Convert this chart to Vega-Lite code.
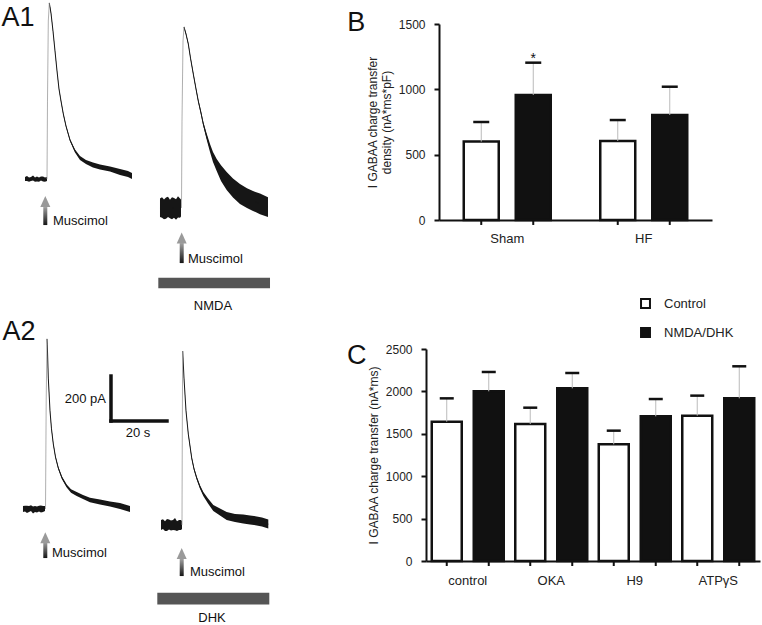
{
  "$schema": "https://vega.github.io/schema/vega-lite/v6.json",
  "padding": 0,
  "background": "white",
  "spacing": 46,
  "config": {
    "view": {"stroke": null},
    "font": "Liberation Sans",
    "axis": {"grid": false, "labelFont": "Liberation Sans", "titleFont": "Liberation Sans", "domainColor": "#111111", "domainWidth": 2, "tickColor": "#111111", "tickWidth": 2, "labelColor": "#222222", "titleColor": "#222222", "titleFontWeight": "normal"},
    "axisY": {"tickSize": 5, "labelPadding": 9, "labelFontSize": 12, "titleFontSize": 12, "titlePadding": 5, "format": "d"},
    "axisX": {"ticks": false, "tickSize": 0, "labelFontSize": 13, "labelAngle": 0},
    "legend": {"labelFont": "Liberation Sans"}
  },
  "datasets": {
    "traces": [
      {"seg": "a1c_base", "t": 8.93, "i": 1987, "lo": 1978, "hi": 1996},
      {"seg": "a1c_base", "t": 9.64, "i": 1989, "lo": 1978, "hi": 2000},
      {"seg": "a1c_base", "t": 10.36, "i": 1984, "lo": 1975, "hi": 1993},
      {"seg": "a1c_base", "t": 11.07, "i": 1987, "lo": 1978, "hi": 1996},
      {"seg": "a1c_base", "t": 11.79, "i": 1991, "lo": 1980, "hi": 2002},
      {"seg": "a1c_base", "t": 12.5, "i": 1984, "lo": 1975, "hi": 1993},
      {"seg": "a1c_base", "t": 13.21, "i": 1987, "lo": 1976, "hi": 1998},
      {"seg": "a1c_base", "t": 13.93, "i": 1984, "lo": 1975, "hi": 1993},
      {"seg": "a1c_base", "t": 14.64, "i": 1989, "lo": 1980, "hi": 1998},
      {"seg": "a1c_base", "t": 15.36, "i": 1987, "lo": 1976, "hi": 1998},
      {"seg": "a1c_base", "t": 16.07, "i": 1984, "lo": 1975, "hi": 1993},
      {"seg": "a1c_base", "t": 16.79, "i": 1987, "lo": 1978, "hi": 1996},
      {"seg": "a1c_decay", "t": 17.61, "i": 2769, "lo": 2765, "hi": 2773},
      {"seg": "a1c_decay", "t": 18.21, "i": 2724, "lo": 2721, "hi": 2728},
      {"seg": "a1c_decay", "t": 18.93, "i": 2644, "lo": 2641, "hi": 2648},
      {"seg": "a1c_decay", "t": 19.64, "i": 2556, "lo": 2552, "hi": 2559},
      {"seg": "a1c_decay", "t": 20.36, "i": 2467, "lo": 2463, "hi": 2470},
      {"seg": "a1c_decay", "t": 21.07, "i": 2387, "lo": 2383, "hi": 2390},
      {"seg": "a1c_decay", "t": 21.79, "i": 2333, "lo": 2329, "hi": 2337},
      {"seg": "a1c_decay", "t": 22.61, "i": 2276, "lo": 2271, "hi": 2280},
      {"seg": "a1c_decay", "t": 23.57, "i": 2222, "lo": 2218, "hi": 2227},
      {"seg": "a1c_decay", "t": 25.0, "i": 2160, "lo": 2155, "hi": 2165},
      {"seg": "a1c_decay", "t": 26.79, "i": 2111, "lo": 2104, "hi": 2118},
      {"seg": "a1c_decay", "t": 28.57, "i": 2080, "lo": 2071, "hi": 2089},
      {"seg": "a1c_decay", "t": 30.71, "i": 2062, "lo": 2053, "hi": 2071},
      {"seg": "a1c_decay", "t": 33.21, "i": 2049, "lo": 2038, "hi": 2060},
      {"seg": "a1c_decay", "t": 35.71, "i": 2040, "lo": 2029, "hi": 2051},
      {"seg": "a1c_decay", "t": 39.29, "i": 2031, "lo": 2020, "hi": 2042},
      {"seg": "a1c_decay", "t": 42.86, "i": 2018, "lo": 2004, "hi": 2031},
      {"seg": "a1c_decay", "t": 45.71, "i": 2009, "lo": 1996, "hi": 2022},
      {"seg": "a1c_decay", "t": 47.14, "i": 2000, "lo": 1987, "hi": 2013},
      {"seg": "a1n_base", "t": 57.14, "i": 1858, "lo": 1818, "hi": 1900},
      {"seg": "a1n_base", "t": 57.86, "i": 1862, "lo": 1814, "hi": 1906},
      {"seg": "a1n_base", "t": 58.57, "i": 1853, "lo": 1808, "hi": 1896},
      {"seg": "a1n_base", "t": 59.29, "i": 1858, "lo": 1810, "hi": 1904},
      {"seg": "a1n_base", "t": 60.0, "i": 1862, "lo": 1818, "hi": 1908},
      {"seg": "a1n_base", "t": 60.71, "i": 1853, "lo": 1812, "hi": 1894},
      {"seg": "a1n_base", "t": 61.43, "i": 1858, "lo": 1808, "hi": 1906},
      {"seg": "a1n_base", "t": 62.14, "i": 1858, "lo": 1815, "hi": 1902},
      {"seg": "a1n_base", "t": 62.86, "i": 1853, "lo": 1806, "hi": 1897},
      {"seg": "a1n_base", "t": 63.57, "i": 1862, "lo": 1816, "hi": 1910},
      {"seg": "a1n_base", "t": 64.29, "i": 1858, "lo": 1814, "hi": 1900},
      {"seg": "a1n_base", "t": 64.64, "i": 1858, "lo": 1820, "hi": 1896},
      {"seg": "a1n_decay", "t": 65.71, "i": 2662, "lo": 2658, "hi": 2667},
      {"seg": "a1n_decay", "t": 66.43, "i": 2631, "lo": 2627, "hi": 2636},
      {"seg": "a1n_decay", "t": 67.25, "i": 2587, "lo": 2582, "hi": 2591},
      {"seg": "a1n_decay", "t": 68.04, "i": 2524, "lo": 2520, "hi": 2529},
      {"seg": "a1n_decay", "t": 69.04, "i": 2453, "lo": 2448, "hi": 2459},
      {"seg": "a1n_decay", "t": 70.0, "i": 2387, "lo": 2381, "hi": 2392},
      {"seg": "a1n_decay", "t": 70.82, "i": 2333, "lo": 2327, "hi": 2340},
      {"seg": "a1n_decay", "t": 71.79, "i": 2280, "lo": 2272, "hi": 2288},
      {"seg": "a1n_decay", "t": 72.61, "i": 2231, "lo": 2222, "hi": 2240},
      {"seg": "a1n_decay", "t": 73.75, "i": 2178, "lo": 2164, "hi": 2191},
      {"seg": "a1n_decay", "t": 75.0, "i": 2124, "lo": 2107, "hi": 2142},
      {"seg": "a1n_decay", "t": 76.07, "i": 2084, "lo": 2062, "hi": 2107},
      {"seg": "a1n_decay", "t": 77.39, "i": 2049, "lo": 2022, "hi": 2076},
      {"seg": "a1n_decay", "t": 78.93, "i": 2013, "lo": 1978, "hi": 2048},
      {"seg": "a1n_decay", "t": 80.96, "i": 1978, "lo": 1938, "hi": 2018},
      {"seg": "a1n_decay", "t": 83.21, "i": 1947, "lo": 1905, "hi": 1989},
      {"seg": "a1n_decay", "t": 85.71, "i": 1920, "lo": 1876, "hi": 1964},
      {"seg": "a1n_decay", "t": 88.21, "i": 1902, "lo": 1858, "hi": 1946},
      {"seg": "a1n_decay", "t": 90.36, "i": 1889, "lo": 1845, "hi": 1933},
      {"seg": "a1n_decay", "t": 92.86, "i": 1876, "lo": 1830, "hi": 1922},
      {"seg": "a1n_decay", "t": 95.71, "i": 1862, "lo": 1818, "hi": 1906},
      {"seg": "a2c_base", "t": 8.21, "i": 520, "lo": 507, "hi": 533},
      {"seg": "a2c_base", "t": 8.93, "i": 522, "lo": 509, "hi": 535},
      {"seg": "a2c_base", "t": 9.64, "i": 518, "lo": 502, "hi": 534},
      {"seg": "a2c_base", "t": 10.36, "i": 520, "lo": 507, "hi": 533},
      {"seg": "a2c_base", "t": 11.07, "i": 524, "lo": 511, "hi": 537},
      {"seg": "a2c_base", "t": 11.79, "i": 516, "lo": 500, "hi": 531},
      {"seg": "a2c_base", "t": 12.5, "i": 520, "lo": 507, "hi": 533},
      {"seg": "a2c_base", "t": 13.21, "i": 518, "lo": 505, "hi": 531},
      {"seg": "a2c_base", "t": 13.93, "i": 522, "lo": 509, "hi": 535},
      {"seg": "a2c_base", "t": 14.64, "i": 520, "lo": 504, "hi": 536},
      {"seg": "a2c_base", "t": 15.36, "i": 520, "lo": 507, "hi": 533},
      {"seg": "a2c_base", "t": 16.07, "i": 522, "lo": 511, "hi": 533},
      {"seg": "a2c_decay", "t": 16.79, "i": 1276, "lo": 1273, "hi": 1279},
      {"seg": "a2c_decay", "t": 16.89, "i": 1253, "lo": 1251, "hi": 1256},
      {"seg": "a2c_decay", "t": 17.25, "i": 1102, "lo": 1099, "hi": 1105},
      {"seg": "a2c_decay", "t": 17.86, "i": 956, "lo": 952, "hi": 959},
      {"seg": "a2c_decay", "t": 18.39, "i": 876, "lo": 872, "hi": 880},
      {"seg": "a2c_decay", "t": 19.04, "i": 809, "lo": 804, "hi": 813},
      {"seg": "a2c_decay", "t": 19.82, "i": 751, "lo": 747, "hi": 756},
      {"seg": "a2c_decay", "t": 20.82, "i": 702, "lo": 697, "hi": 708},
      {"seg": "a2c_decay", "t": 22.14, "i": 658, "lo": 652, "hi": 664},
      {"seg": "a2c_decay", "t": 23.82, "i": 622, "lo": 616, "hi": 629},
      {"seg": "a2c_decay", "t": 25.36, "i": 600, "lo": 592, "hi": 608},
      {"seg": "a2c_decay", "t": 27.39, "i": 587, "lo": 578, "hi": 596},
      {"seg": "a2c_decay", "t": 29.64, "i": 573, "lo": 564, "hi": 582},
      {"seg": "a2c_decay", "t": 32.14, "i": 560, "lo": 550, "hi": 570},
      {"seg": "a2c_decay", "t": 35.71, "i": 551, "lo": 540, "hi": 562},
      {"seg": "a2c_decay", "t": 39.29, "i": 542, "lo": 531, "hi": 553},
      {"seg": "a2c_decay", "t": 42.86, "i": 533, "lo": 520, "hi": 547},
      {"seg": "a2c_decay", "t": 46.43, "i": 520, "lo": 507, "hi": 533},
      {"seg": "a2d_base", "t": 57.5, "i": 449, "lo": 427, "hi": 471},
      {"seg": "a2d_base", "t": 58.21, "i": 453, "lo": 431, "hi": 475},
      {"seg": "a2d_base", "t": 58.93, "i": 444, "lo": 422, "hi": 466},
      {"seg": "a2d_base", "t": 59.64, "i": 449, "lo": 422, "hi": 476},
      {"seg": "a2d_base", "t": 60.36, "i": 451, "lo": 429, "hi": 473},
      {"seg": "a2d_base", "t": 61.07, "i": 447, "lo": 425, "hi": 469},
      {"seg": "a2d_base", "t": 61.79, "i": 449, "lo": 427, "hi": 471},
      {"seg": "a2d_base", "t": 62.5, "i": 453, "lo": 426, "hi": 480},
      {"seg": "a2d_base", "t": 63.21, "i": 444, "lo": 422, "hi": 466},
      {"seg": "a2d_base", "t": 63.93, "i": 449, "lo": 427, "hi": 471},
      {"seg": "a2d_base", "t": 64.64, "i": 449, "lo": 427, "hi": 471},
      {"seg": "a2d_base", "t": 65.0, "i": 449, "lo": 431, "hi": 467},
      {"seg": "a2d_decay", "t": 65.25, "i": 1222, "lo": 1219, "hi": 1225},
      {"seg": "a2d_decay", "t": 65.71, "i": 1102, "lo": 1099, "hi": 1105},
      {"seg": "a2d_decay", "t": 66.43, "i": 956, "lo": 952, "hi": 959},
      {"seg": "a2d_decay", "t": 67.25, "i": 853, "lo": 849, "hi": 858},
      {"seg": "a2d_decay", "t": 68.46, "i": 747, "lo": 741, "hi": 752},
      {"seg": "a2d_decay", "t": 69.29, "i": 698, "lo": 692, "hi": 704},
      {"seg": "a2d_decay", "t": 70.25, "i": 658, "lo": 651, "hi": 665},
      {"seg": "a2d_decay", "t": 71.43, "i": 618, "lo": 610, "hi": 626},
      {"seg": "a2d_decay", "t": 72.61, "i": 587, "lo": 578, "hi": 596},
      {"seg": "a2d_decay", "t": 74.29, "i": 556, "lo": 544, "hi": 567},
      {"seg": "a2d_decay", "t": 76.18, "i": 524, "lo": 511, "hi": 538},
      {"seg": "a2d_decay", "t": 78.57, "i": 507, "lo": 491, "hi": 522},
      {"seg": "a2d_decay", "t": 80.96, "i": 489, "lo": 471, "hi": 507},
      {"seg": "a2d_decay", "t": 83.93, "i": 480, "lo": 462, "hi": 498},
      {"seg": "a2d_decay", "t": 86.89, "i": 476, "lo": 456, "hi": 496},
      {"seg": "a2d_decay", "t": 89.29, "i": 471, "lo": 451, "hi": 491},
      {"seg": "a2d_decay", "t": 91.68, "i": 467, "lo": 447, "hi": 487},
      {"seg": "a2d_decay", "t": 93.57, "i": 462, "lo": 442, "hi": 482},
      {"seg": "a2d_decay", "t": 95.82, "i": 453, "lo": 433, "hi": 473}
    ],
    "rises": [
      {"tr": "a1c", "t": 16.79, "i": 1987},
      {"tr": "a1c", "t": 16.96, "i": 2333},
      {"tr": "a1c", "t": 17.25, "i": 2689},
      {"tr": "a1c", "t": 17.61, "i": 2769},
      {"tr": "a1n", "t": 64.82, "i": 1858},
      {"tr": "a1n", "t": 65.0, "i": 2244},
      {"tr": "a1n", "t": 65.36, "i": 2600},
      {"tr": "a1n", "t": 65.71, "i": 2662},
      {"tr": "a2c", "t": 16.25, "i": 520},
      {"tr": "a2c", "t": 16.5, "i": 1000},
      {"tr": "a2c", "t": 16.79, "i": 1276},
      {"tr": "a2d", "t": 65.0, "i": 449},
      {"tr": "a2d", "t": 65.12, "i": 911},
      {"tr": "a2d", "t": 65.25, "i": 1222}
    ],
    "stim": [
      {"stim": "Muscimol", "t": 15.46, "t2": 16.89, "i": 1782, "i2": 1862, "tc": 16.18, "ih": 1884, "tl": 18.93, "il": 1800},
      {"stim": "Muscimol", "t": 64.18, "t2": 65.61, "i": 1613, "i2": 1702, "tc": 64.89, "ih": 1722, "tl": 67.14, "il": 1631},
      {"stim": "Muscimol", "t": 15.46, "t2": 16.89, "i": 302, "i2": 373, "tc": 16.18, "ih": 390, "tl": 18.57, "il": 324},
      {"stim": "Muscimol", "t": 64.18, "t2": 65.61, "i": 222, "i2": 298, "tc": 64.89, "ih": 320, "tl": 67.86, "il": 240}
    ]
  },
  "hconcat": [
    {
      "width": 300,
      "height": 602,
      "layer": [
        {
          "data": {"values": [
            {"drug": "NMDA", "t": 56.54, "t2": 96.43, "i": 1501, "i2": 1548, "tl": 76.07, "il": 1422},
            {"drug": "DHK", "t": 56.18, "t2": 96.18, "i": 96, "i2": 148, "tl": 75.71, "il": 34}
          ]},
          "layer": [
            {
              "mark": {"type": "rect", "fill": "#555555"},
              "encoding": {
                "x": {"field": "t", "type": "quantitative", "scale": {"domain": [0, 107.142857], "nice": false, "zero": false}, "axis": null},
                "x2": {"field": "t2"},
                "y": {"field": "i", "type": "quantitative", "scale": {"domain": [0, 2675.56], "nice": false, "zero": false}, "axis": null},
                "y2": {"field": "i2"}
              }
            },
            {
              "mark": {"type": "text", "fontSize": 13, "align": "center", "baseline": "middle", "color": "#111111", "font": "Liberation Sans"},
              "encoding": {
                "x": {"field": "tl", "type": "quantitative", "scale": {"domain": [0, 107.142857], "nice": false, "zero": false}, "axis": null},
                "y": {"field": "il", "type": "quantitative", "scale": {"domain": [0, 2675.56], "nice": false, "zero": false}, "axis": null},
                "text": {"field": "drug"}
              }
            }
          ]
        },
        {
          "data": {"name": "stim"},
          "layer": [
            {
              "mark": {"type": "rect", "fill": {"gradient": "linear", "x1": 0, "y1": 1, "x2": 0, "y2": 0, "stops": [{"offset": 0, "color": "#151515"}, {"offset": 1, "color": "#a0a0a0"}]}},
              "encoding": {
                "x": {"field": "t", "type": "quantitative", "scale": {"domain": [0, 107.142857], "nice": false, "zero": false}, "axis": null},
                "x2": {"field": "t2"},
                "y": {"field": "i", "type": "quantitative", "scale": {"domain": [0, 2675.56], "nice": false, "zero": false}, "axis": null},
                "y2": {"field": "i2"}
              }
            },
            {
              "mark": {"type": "point", "shape": "M-1,1L0,-1.2L1,1Z", "size": 100, "filled": true, "color": "#9a9a9a", "opacity": 1, "strokeWidth": 0},
              "encoding": {
                "x": {"field": "tc", "type": "quantitative", "scale": {"domain": [0, 107.142857], "nice": false, "zero": false}, "axis": null},
                "y": {"field": "ih", "type": "quantitative", "scale": {"domain": [0, 2675.56], "nice": false, "zero": false}, "axis": null}
              }
            },
            {
              "mark": {"type": "text", "fontSize": 13, "align": "left", "baseline": "middle", "color": "#111111", "font": "Liberation Sans"},
              "encoding": {
                "x": {"field": "tl", "type": "quantitative", "scale": {"domain": [0, 107.142857], "nice": false, "zero": false}, "axis": null},
                "y": {"field": "il", "type": "quantitative", "scale": {"domain": [0, 2675.56], "nice": false, "zero": false}, "axis": null},
                "text": {"field": "stim"}
              }
            }
          ]
        },
        {
          "data": {"name": "traces"},
          "layer": [
            {
              "mark": {"type": "area", "color": "#161616", "opacity": 1},
              "encoding": {
                "x": {"field": "t", "type": "quantitative", "scale": {"domain": [0, 107.142857], "nice": false, "zero": false}, "axis": null},
                "y": {"field": "lo", "type": "quantitative", "scale": {"domain": [0, 2675.56], "nice": false, "zero": false}, "axis": null},
                "y2": {"field": "hi"},
                "detail": {"field": "seg"}
              }
            },
            {
              "mark": {"type": "line", "color": "#161616", "strokeWidth": 1},
              "encoding": {
                "x": {"field": "t", "type": "quantitative", "scale": {"domain": [0, 107.142857], "nice": false, "zero": false}, "axis": null},
                "y": {"field": "i", "type": "quantitative", "scale": {"domain": [0, 2675.56], "nice": false, "zero": false}, "axis": null},
                "detail": {"field": "seg"}
              }
            }
          ]
        },
        {
          "data": {"name": "rises"},
          "mark": {"type": "line", "color": "#9a9a9a", "strokeWidth": 0.8},
          "encoding": {
            "x": {"field": "t", "type": "quantitative", "scale": {"domain": [0, 107.142857], "nice": false, "zero": false}, "axis": null},
            "y": {"field": "i", "type": "quantitative", "scale": {"domain": [0, 2675.56], "nice": false, "zero": false}, "axis": null},
            "detail": {"field": "tr"}
          }
        },
        {
          "data": {"values": [{"t": 39.64, "t2": 59.64, "i": 911, "i2": 1111, "lv": "200 pA", "lh": "20 s", "tv": 37.86, "iv": 1010, "th": 49.29, "ih": 858}]},
          "layer": [
            {
              "mark": {"type": "rule", "color": "#111111", "strokeWidth": 3.5, "strokeCap": "square"},
              "encoding": {
                "x": {"field": "t", "type": "quantitative", "scale": {"domain": [0, 107.142857], "nice": false, "zero": false}, "axis": null},
                "y": {"field": "i", "type": "quantitative", "scale": {"domain": [0, 2675.56], "nice": false, "zero": false}, "axis": null},
                "y2": {"field": "i2"}
              }
            },
            {
              "mark": {"type": "rule", "color": "#111111", "strokeWidth": 3.5, "strokeCap": "square"},
              "encoding": {
                "x": {"field": "t", "type": "quantitative", "scale": {"domain": [0, 107.142857], "nice": false, "zero": false}, "axis": null},
                "x2": {"field": "t2"},
                "y": {"field": "i", "type": "quantitative", "scale": {"domain": [0, 2675.56], "nice": false, "zero": false}, "axis": null}
              }
            },
            {
              "mark": {"type": "text", "fontSize": 13, "align": "right", "baseline": "middle", "color": "#111111", "font": "Liberation Sans"},
              "encoding": {
                "x": {"field": "tv", "type": "quantitative", "scale": {"domain": [0, 107.142857], "nice": false, "zero": false}, "axis": null},
                "y": {"field": "iv", "type": "quantitative", "scale": {"domain": [0, 2675.56], "nice": false, "zero": false}, "axis": null},
                "text": {"field": "lv"}
              }
            },
            {
              "mark": {"type": "text", "fontSize": 13, "align": "center", "baseline": "middle", "color": "#111111", "font": "Liberation Sans"},
              "encoding": {
                "x": {"field": "th", "type": "quantitative", "scale": {"domain": [0, 107.142857], "nice": false, "zero": false}, "axis": null},
                "y": {"field": "ih", "type": "quantitative", "scale": {"domain": [0, 2675.56], "nice": false, "zero": false}, "axis": null},
                "text": {"field": "lh"}
              }
            }
          ]
        },
        {
          "data": {"values": [{"p": "A1", "t": 0.5, "i": 2667}, {"p": "A2", "t": 0.9, "i": 1271}]},
          "mark": {"type": "text", "fontSize": 27, "align": "left", "baseline": "alphabetic", "color": "#111111", "font": "Liberation Sans"},
          "encoding": {
            "x": {"field": "t", "type": "quantitative", "scale": {"domain": [0, 107.142857], "nice": false, "zero": false}, "axis": null},
            "y": {"field": "i", "type": "quantitative", "scale": {"domain": [0, 2675.56], "nice": false, "zero": false}, "axis": null},
            "text": {"field": "p"}
          }
        }
      ]
    },
    {
      "concat": [
        {
          "width": 273,
          "height": 196,
          "data": {"values": [
            {"grp": "Sham", "cond": "Control", "v": 600, "hi": 750, "sig": ""},
            {"grp": "Sham", "cond": "NMDA/DHK", "v": 957, "hi": 1204, "sig": "*"},
            {"grp": "HF", "cond": "Control", "v": 605, "hi": 765, "sig": ""},
            {"grp": "HF", "cond": "NMDA/DHK", "v": 804, "hi": 1020, "sig": ""}
          ]},
          "encoding": {
            "x": {"field": "grp", "type": "nominal", "sort": ["Sham", "HF"], "scale": {"paddingInner": 0, "paddingOuter": 0}, "axis": {"title": null, "labelPadding": 12}},
            "xOffset": {"field": "cond", "type": "nominal", "sort": ["Control", "NMDA/DHK"], "scale": {"paddingInner": 0.327, "paddingOuter": 0.476}}
          },
          "layer": [
            {
              "mark": {"type": "bar", "stroke": "#111111", "strokeWidth": 2.5},
              "encoding": {
                "y": {"field": "v", "type": "quantitative", "scale": {"domain": [0, 1500], "nice": false}, "axis": {"title": ["I GABAA charge transfer", "density (nA*ms*pF)"], "values": [0, 500, 1000, 1500]}},
                "fill": {"field": "cond", "type": "nominal", "scale": {"domain": ["Control", "NMDA/DHK"], "range": ["#ffffff", "#111111"]}, "legend": null}
              }
            },
            {
              "mark": {"type": "rule", "color": "#bbbbbb", "strokeWidth": 1},
              "encoding": {
                "y": {"field": "v", "type": "quantitative", "scale": {"domain": [0, 1500], "nice": false}},
                "y2": {"field": "hi"}
              }
            },
            {
              "mark": {"type": "tick", "color": "#111111", "opacity": 1, "thickness": 2.5, "size": 16, "orient": "horizontal"},
              "encoding": {
                "y": {"field": "hi", "type": "quantitative", "scale": {"domain": [0, 1500], "nice": false}}
              }
            },
            {
              "mark": {"type": "rule", "color": "#111111", "strokeWidth": 2},
              "encoding": {
                "y": {"datum": 0, "type": "quantitative", "scale": {"domain": [0, 1500], "nice": false}},
                "y2": {"datum": -38}
              }
            },
            {
              "mark": {"type": "text", "fontSize": 14, "baseline": "bottom", "dy": 3, "color": "#111111", "font": "Liberation Sans"},
              "encoding": {
                "y": {"field": "hi", "type": "quantitative", "scale": {"domain": [0, 1500], "nice": false}},
                "text": {"field": "sig"}
              }
            },
            {
              "data": {"values": [{"p": "B"}]},
              "mark": {"type": "text", "fontSize": 27, "align": "center", "baseline": "alphabetic", "dx": -125, "color": "#111111", "font": "Liberation Sans"},
              "encoding": {
                "x": {"datum": "Sham"},
                "xOffset": {"datum": "Control"},
                "y": {"datum": 1446, "type": "quantitative", "scale": {"domain": [0, 1500], "nice": false}},
                "text": {"field": "p"}
              }
            }
          ]
        },
        {
          "width": 321,
          "height": 212,
          "data": {"values": [
            {"grp": "control", "cond": "Control", "v": 1643, "hi": 1918},
            {"grp": "control", "cond": "NMDA/DHK", "v": 2001, "hi": 2229},
            {"grp": "OKA", "cond": "Control", "v": 1615, "hi": 1808},
            {"grp": "OKA", "cond": "NMDA/DHK", "v": 2036, "hi": 2217},
            {"grp": "H9", "cond": "Control", "v": 1376, "hi": 1537},
            {"grp": "H9", "cond": "NMDA/DHK", "v": 1706, "hi": 1910},
            {"grp": "ATPγS", "cond": "Control", "v": 1714, "hi": 1950},
            {"grp": "ATPγS", "cond": "NMDA/DHK", "v": 1918, "hi": 2296}
          ]},
          "encoding": {
            "x": {"field": "grp", "type": "nominal", "sort": ["control", "OKA", "H9", "ATPγS"], "scale": {"paddingInner": 0, "paddingOuter": 0, "range": [-13, 321]}, "axis": {"title": null, "labelPadding": 13}},
            "xOffset": {"field": "cond", "type": "nominal", "sort": ["Control", "NMDA/DHK"], "scale": {"paddingInner": 0.286, "paddingOuter": 0.137}}
          },
          "layer": [
            {
              "mark": {"type": "bar", "stroke": "#111111", "strokeWidth": 2.5},
              "encoding": {
                "y": {"field": "v", "type": "quantitative", "scale": {"domain": [0, 2500], "nice": false}, "axis": {"title": "I GABAA charge transfer (nA*ms)", "values": [0, 500, 1000, 1500, 2000, 2500], "offset": 13}},
                "fill": {"field": "cond", "type": "nominal", "scale": {"domain": ["Control", "NMDA/DHK"], "range": ["#ffffff", "#111111"]}, "legend": {"title": null, "orient": "none", "legendX": 200, "legendY": -52, "padding": 0, "symbolType": "square", "symbolSize": 80, "symbolStrokeColor": "#111111", "symbolStrokeWidth": 2, "symbolOpacity": 1, "labelFontSize": 13, "labelColor": "#222222", "labelOffset": 12, "rowPadding": 12}}
              }
            },
            {
              "mark": {"type": "rule", "color": "#bbbbbb", "strokeWidth": 1},
              "encoding": {
                "y": {"field": "v", "type": "quantitative", "scale": {"domain": [0, 2500], "nice": false}},
                "y2": {"field": "hi"}
              }
            },
            {
              "mark": {"type": "tick", "color": "#111111", "opacity": 1, "thickness": 2.5, "size": 14, "orient": "horizontal"},
              "encoding": {
                "y": {"field": "hi", "type": "quantitative", "scale": {"domain": [0, 2500], "nice": false}}
              }
            },
            {
              "mark": {"type": "rule", "color": "#111111", "strokeWidth": 2},
              "encoding": {
                "y": {"datum": 0, "type": "quantitative", "scale": {"domain": [0, 2500], "nice": false}},
                "y2": {"datum": -59}
              }
            },
            {
              "data": {"values": [{"p": "C"}]},
              "mark": {"type": "text", "fontSize": 27, "align": "center", "baseline": "alphabetic", "dx": -90, "color": "#111111", "font": "Liberation Sans"},
              "encoding": {
                "x": {"datum": "control"},
                "xOffset": {"datum": "Control"},
                "y": {"datum": 2323, "type": "quantitative", "scale": {"domain": [0, 2500], "nice": false}},
                "text": {"field": "p"}
              }
            }
          ]
        }
      ],
      "columns": 1,
      "align": "none",
      "spacing": 52,
      "resolve": {"scale": {"fill": "independent", "xOffset": "independent", "x": "independent", "y": "independent"}, "legend": {"fill": "independent"}}
    }
  ]
}
